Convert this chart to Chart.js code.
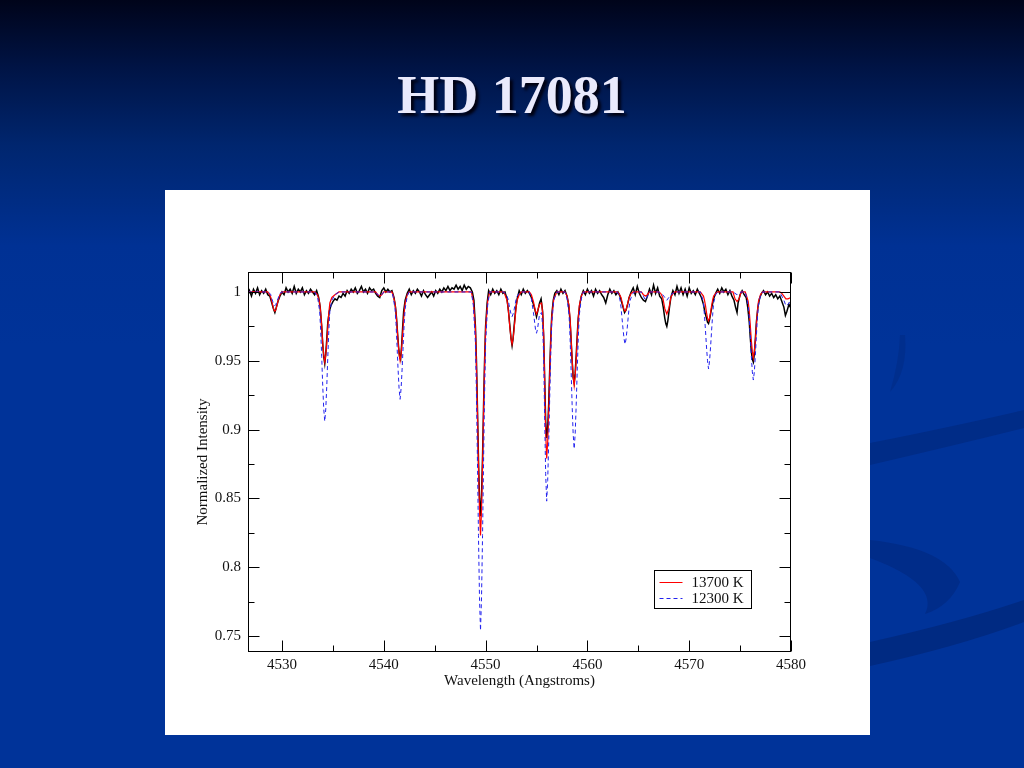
<!DOCTYPE html>
<html>
<head>
<meta charset="utf-8">
<title>HD 17081</title>
<script src="https://cdn.jsdelivr.net/npm/chart.js@4.4.1/dist/chart.umd.min.js"></script>
<style>
    html, body { margin: 0; padding: 0; }
    body {
        width: 1024px;
        height: 768px;
        overflow: hidden;
        position: relative;
        background: linear-gradient(to bottom, #00041a 0%, #001446 9%, #00266f 19%, #003194 32%, #003399 45%, #003399 100%);
        font-family: "Liberation Serif", "DejaVu Serif", serif;
    }
    .deco { position: absolute; left: 0; top: 0; }
    h1 {
        position: absolute;
        left: 0;
        top: 63px;
        width: 1024px;
        margin: 0;
        text-align: center;
        font-size: 54px;
        font-weight: bold;
        line-height: 64px;
        color: #eaeafc;
        text-shadow: 3px 3px 3px #000010;
    }
    #panel {
        position: absolute;
        left: 165px;
        top: 190px;
        width: 705px;
        height: 545px;
        background: #fff;
    }
</style>
</head>
<body>
<svg class="deco" width="1024" height="768">
    <path d="M870 443 Q960 425 1024 410 L1024 428 Q960 444 870 465 Z" fill="#002a82" opacity="0.8"/>
    <path d="M870 642 Q960 622 1024 600 L1024 622 Q960 646 870 666 Z" fill="#00287c" opacity="0.8"/>
    <path d="M870 540 Q945 548 960 582 Q950 606 925 614 Q940 584 870 558 Z" fill="#002a82" opacity="0.7"/>
    <path d="M905 335 Q908 372 890 392 Q899 362 900 335 Z" fill="#002a82" opacity="0.5"/>
</svg>
<h1>HD 17081</h1>
<div id="panel"><canvas id="spec" width="705" height="545"></canvas></div>
<script>
// axis ranges and ticks
const X_MIN = 4526.66;
const X_MAX = 4580;
const Y_MIN = 0.7384;
const Y_MAX = 1.0145;
const X_TICKS = [4530, 4540, 4550, 4560, 4570, 4580];
const X_MINOR = [4535, 4545, 4555, 4565, 4575];
const Y_TICKS = [0.75, 0.8, 0.85, 0.9, 0.95, 1];
const Y_MINOR = [0.775, 0.825, 0.875, 0.925, 0.975];

const SERIES_LABELS = ['13700 K', '12300 K'];

// observed spectrum [wavelength, normalized intensity]
const OBS = [
    [4526.66, 0.998], [4526.8, 1.001], [4527.0, 0.997], [4527.2, 1.002], [4527.4, 0.999], [4527.6, 1.003],
    [4527.8, 0.998], [4528.0, 1.001], [4528.2, 0.999], [4528.4, 1.002], [4528.6, 0.998], [4528.8, 0.997],
    [4529.0, 0.992], [4529.15, 0.988], [4529.3, 0.985], [4529.45, 0.989], [4529.6, 0.993], [4529.8, 0.997],
    [4530.0, 1.000], [4530.2, 0.998], [4530.4, 1.003], [4530.6, 1.000], [4530.8, 1.002], [4531.0, 0.999],
    [4531.2, 1.004], [4531.4, 0.999], [4531.6, 1.002], [4531.8, 1.000], [4532.0, 1.003], [4532.2, 0.998],
    [4532.4, 1.001], [4532.6, 0.999], [4532.8, 1.002], [4533.0, 1.000], [4533.2, 0.998], [4533.4, 1.001],
    [4533.6, 0.996], [4533.75, 0.989], [4533.9, 0.975], [4534.0, 0.962], [4534.1, 0.953], [4534.2, 0.948],
    [4534.3, 0.955], [4534.4, 0.966], [4534.5, 0.978], [4534.65, 0.986], [4534.8, 0.990], [4535.0, 0.993],
    [4535.2, 0.995], [4535.4, 0.994], [4535.6, 0.997], [4535.8, 0.996], [4536.0, 0.999], [4536.2, 0.997],
    [4536.4, 1.001], [4536.6, 0.999], [4536.8, 1.002], [4537.0, 1.000], [4537.2, 1.003], [4537.4, 0.999],
    [4537.6, 1.001], [4537.8, 1.004], [4538.0, 1.000], [4538.2, 1.002], [4538.4, 0.999], [4538.6, 1.003],
    [4538.8, 1.001], [4539.0, 1.002], [4539.2, 0.999], [4539.4, 0.997], [4539.6, 0.996], [4539.8, 1.001],
    [4540.0, 1.003], [4540.2, 1.000], [4540.4, 1.002], [4540.6, 1.000], [4540.8, 1.001], [4541.0, 0.996],
    [4541.15, 0.989], [4541.25, 0.981], [4541.35, 0.970], [4541.45, 0.960], [4541.55, 0.953], [4541.65, 0.951],
    [4541.75, 0.961], [4541.85, 0.974], [4541.95, 0.986], [4542.1, 0.994], [4542.3, 0.999], [4542.5, 1.002],
    [4542.7, 0.998], [4542.9, 1.001], [4543.1, 0.999], [4543.3, 1.002], [4543.5, 1.000], [4543.7, 0.997],
    [4543.9, 1.001], [4544.1, 0.998], [4544.3, 0.996], [4544.5, 0.998], [4544.7, 1.000], [4544.9, 0.997],
    [4545.1, 1.001], [4545.3, 0.999], [4545.5, 1.002], [4545.7, 1.000], [4545.9, 1.003], [4546.1, 1.001],
    [4546.3, 1.004], [4546.5, 1.001], [4546.7, 1.003], [4546.9, 1.002], [4547.1, 1.005], [4547.3, 1.002],
    [4547.5, 1.004], [4547.7, 1.001], [4547.9, 1.005], [4548.1, 1.002], [4548.3, 1.004], [4548.5, 1.003],
    [4548.7, 1.000], [4548.85, 0.994], [4549.0, 0.975], [4549.1, 0.950], [4549.2, 0.915], [4549.3, 0.878],
    [4549.4, 0.850], [4549.5, 0.837], [4549.6, 0.852], [4549.7, 0.880], [4549.8, 0.917], [4549.9, 0.950],
    [4550.0, 0.975], [4550.15, 0.992], [4550.3, 1.001], [4550.5, 0.998], [4550.7, 1.002], [4550.9, 0.999],
    [4551.1, 1.001], [4551.3, 0.998], [4551.5, 1.002], [4551.7, 0.999], [4551.9, 1.000], [4552.1, 0.995],
    [4552.25, 0.986], [4552.4, 0.974], [4552.5, 0.966], [4552.6, 0.961], [4552.7, 0.966], [4552.8, 0.975],
    [4552.95, 0.987], [4553.1, 0.995], [4553.3, 1.001], [4553.5, 0.998], [4553.7, 1.002], [4553.9, 0.999],
    [4554.1, 1.001], [4554.3, 0.999], [4554.5, 0.996], [4554.7, 0.991], [4554.85, 0.987], [4555.0, 0.982],
    [4555.15, 0.987], [4555.3, 0.992], [4555.45, 0.995], [4555.6, 0.986], [4555.7, 0.968], [4555.8, 0.938],
    [4555.9, 0.906], [4556.0, 0.894], [4556.1, 0.901], [4556.2, 0.919], [4556.3, 0.944], [4556.4, 0.966],
    [4556.5, 0.983], [4556.65, 0.994], [4556.8, 0.999], [4557.0, 1.001], [4557.2, 0.998], [4557.4, 1.002],
    [4557.6, 0.999], [4557.8, 1.001], [4558.0, 0.997], [4558.15, 0.991], [4558.3, 0.979], [4558.4, 0.965],
    [4558.5, 0.950], [4558.6, 0.938], [4558.7, 0.934], [4558.8, 0.941], [4558.9, 0.954], [4559.0, 0.968],
    [4559.1, 0.981], [4559.25, 0.991], [4559.4, 0.997], [4559.6, 1.001], [4559.8, 0.998], [4560.0, 1.002],
    [4560.2, 0.999], [4560.4, 1.001], [4560.6, 0.997], [4560.8, 1.002], [4561.0, 0.999], [4561.2, 1.001],
    [4561.4, 0.998], [4561.6, 0.996], [4561.8, 0.992], [4562.0, 0.998], [4562.2, 1.002], [4562.4, 0.999],
    [4562.6, 1.001], [4562.8, 0.998], [4563.0, 1.000], [4563.2, 0.997], [4563.35, 0.993], [4563.5, 0.989],
    [4563.65, 0.985], [4563.8, 0.987], [4563.95, 0.991], [4564.1, 0.996], [4564.3, 1.000], [4564.5, 1.003],
    [4564.7, 0.998], [4564.9, 1.004], [4565.1, 0.999], [4565.3, 0.996], [4565.5, 0.994], [4565.7, 0.993],
    [4565.9, 0.997], [4566.1, 1.002], [4566.3, 0.998], [4566.5, 1.005], [4566.7, 0.999], [4566.9, 1.003],
    [4567.1, 0.997], [4567.3, 0.995], [4567.45, 0.989], [4567.6, 0.981], [4567.7, 0.977], [4567.8, 0.975],
    [4567.9, 0.979], [4568.05, 0.988], [4568.2, 0.996], [4568.4, 1.001], [4568.6, 0.998], [4568.8, 1.004],
    [4569.0, 0.999], [4569.2, 1.003], [4569.4, 0.998], [4569.6, 1.002], [4569.8, 0.997], [4570.0, 1.003],
    [4570.2, 0.999], [4570.4, 1.001], [4570.6, 0.998], [4570.8, 1.002], [4571.0, 0.999], [4571.2, 0.996],
    [4571.4, 0.991], [4571.55, 0.985], [4571.7, 0.981], [4571.8, 0.978], [4571.9, 0.977], [4572.0, 0.980],
    [4572.1, 0.984], [4572.25, 0.990], [4572.4, 0.995], [4572.6, 0.999], [4572.8, 1.002], [4573.0, 0.999],
    [4573.2, 1.003], [4573.4, 1.000], [4573.6, 1.002], [4573.8, 0.998], [4574.0, 1.001], [4574.2, 0.997],
    [4574.4, 0.994], [4574.55, 0.989], [4574.7, 0.985], [4574.8, 0.992], [4575.0, 0.998], [4575.2, 1.001],
    [4575.4, 0.998], [4575.6, 0.996], [4575.75, 0.989], [4575.9, 0.978], [4576.0, 0.967], [4576.1, 0.957],
    [4576.2, 0.951], [4576.3, 0.949], [4576.4, 0.955], [4576.5, 0.966], [4576.6, 0.978], [4576.75, 0.989],
    [4576.9, 0.995], [4577.1, 0.999], [4577.3, 1.001], [4577.5, 0.998], [4577.7, 1.000], [4577.9, 0.997],
    [4578.1, 0.999], [4578.3, 0.996], [4578.5, 0.998], [4578.7, 0.995], [4578.9, 0.997], [4579.1, 0.993],
    [4579.3, 0.989], [4579.45, 0.983], [4579.6, 0.986], [4579.8, 0.991], [4580.0, 0.988]
];

// model 13700 K
const MODEL_13700 = [
    [4526.66, 1.0], [4528.6, 1.0], [4528.8, 0.998], [4528.9, 0.996], [4529.0, 0.993], [4529.1, 0.990],
    [4529.2, 0.987], [4529.3, 0.986], [4529.4, 0.987], [4529.5, 0.990], [4529.6, 0.993], [4529.7, 0.996],
    [4529.8, 0.998], [4530.0, 1.0],
    [4533.2, 1.0], [4533.5, 0.998], [4533.7, 0.992], [4533.8, 0.985], [4533.9, 0.975], [4534.0, 0.963],
    [4534.1, 0.954], [4534.2, 0.949], [4534.3, 0.954], [4534.4, 0.963], [4534.5, 0.975], [4534.6, 0.985],
    [4534.7, 0.992], [4534.9, 0.996], [4535.2, 0.998], [4535.6, 1.0],
    [4539.2, 1.0], [4539.4, 0.998], [4539.6, 0.997], [4539.8, 0.998], [4540.0, 1.0],
    [4540.8, 1.0], [4540.9, 0.998], [4541.1, 0.992], [4541.2, 0.985], [4541.3, 0.975], [4541.4, 0.964],
    [4541.5, 0.955], [4541.6, 0.950], [4541.7, 0.955], [4541.8, 0.964], [4541.9, 0.975], [4542.0, 0.985],
    [4542.1, 0.992], [4542.3, 0.998], [4542.5, 1.0],
    [4548.6, 1.0], [4548.8, 0.993], [4549.0, 0.973], [4549.1, 0.947], [4549.2, 0.912], [4549.3, 0.873],
    [4549.4, 0.841], [4549.5, 0.823], [4549.6, 0.841], [4549.7, 0.873], [4549.8, 0.912], [4549.9, 0.947],
    [4550.0, 0.973], [4550.2, 0.993], [4550.4, 1.0],
    [4551.8, 1.0], [4551.9, 0.998], [4552.1, 0.994], [4552.2, 0.989], [4552.3, 0.981], [4552.4, 0.973],
    [4552.5, 0.966], [4552.6, 0.962], [4552.7, 0.966], [4552.8, 0.973], [4552.9, 0.981], [4553.0, 0.989],
    [4553.1, 0.994], [4553.3, 0.998], [4553.5, 1.0],
    [4554.3, 1.0], [4554.5, 0.998], [4554.7, 0.993], [4554.9, 0.986], [4555.0, 0.984], [4555.1, 0.986],
    [4555.3, 0.991], [4555.5, 0.992], [4555.6, 0.985], [4555.7, 0.970], [4555.8, 0.935], [4555.9, 0.898],
    [4556.0, 0.879], [4556.1, 0.891], [4556.2, 0.913], [4556.3, 0.940], [4556.4, 0.964], [4556.5, 0.982],
    [4556.7, 0.995], [4557.0, 1.0],
    [4557.8, 1.0], [4558.0, 0.997], [4558.2, 0.990], [4558.3, 0.980], [4558.4, 0.966], [4558.5, 0.951],
    [4558.6, 0.939], [4558.7, 0.932], [4558.8, 0.939], [4558.9, 0.951], [4559.0, 0.966], [4559.1, 0.980],
    [4559.2, 0.990], [4559.4, 0.997], [4559.6, 1.0],
    [4562.9, 1.0], [4563.1, 0.999], [4563.3, 0.996], [4563.4, 0.993], [4563.5, 0.990], [4563.6, 0.987],
    [4563.7, 0.986], [4563.8, 0.987], [4563.9, 0.990], [4564.0, 0.993], [4564.1, 0.996], [4564.3, 0.999],
    [4564.5, 1.0],
    [4565.3, 1.0], [4565.5, 0.998], [4565.7, 0.997], [4565.9, 0.998], [4566.1, 1.0],
    [4567.0, 1.0], [4567.2, 0.999], [4567.4, 0.996], [4567.5, 0.992], [4567.6, 0.988], [4567.7, 0.986],
    [4567.8, 0.984], [4567.9, 0.986], [4568.0, 0.988], [4568.1, 0.992], [4568.2, 0.996], [4568.4, 0.999],
    [4568.6, 1.0],
    [4571.1, 1.0], [4571.2, 0.999], [4571.4, 0.997], [4571.5, 0.994], [4571.6, 0.990], [4571.7, 0.985],
    [4571.8, 0.981], [4571.9, 0.979], [4572.0, 0.981], [4572.1, 0.985], [4572.2, 0.990], [4572.3, 0.994],
    [4572.4, 0.997], [4572.6, 0.999], [4572.8, 1.0],
    [4574.3, 1.0], [4574.5, 0.995], [4574.7, 0.993], [4574.9, 0.995], [4575.1, 1.0],
    [4575.5, 1.0], [4575.6, 0.998], [4575.8, 0.993], [4575.9, 0.986], [4576.0, 0.976], [4576.1, 0.965],
    [4576.2, 0.957], [4576.3, 0.952], [4576.4, 0.957], [4576.5, 0.965], [4576.6, 0.976], [4576.7, 0.986],
    [4576.8, 0.993], [4577.0, 0.998], [4577.2, 1.0],
    [4578.9, 1.0], [4579.1, 0.999], [4579.3, 0.997], [4579.5, 0.995], [4579.7, 0.995], [4580.0, 0.996]
];

// model 12300 K
const MODEL_12300 = [
    [4526.66, 1.0], [4528.6, 1.0], [4528.8, 0.999], [4528.9, 0.998], [4529.0, 0.995], [4529.1, 0.993],
    [4529.2, 0.991], [4529.3, 0.990], [4529.4, 0.991], [4529.5, 0.993], [4529.6, 0.995], [4529.7, 0.997],
    [4529.8, 0.999], [4530.0, 1.0],
    [4533.2, 1.0], [4533.5, 0.996], [4533.7, 0.986], [4533.8, 0.972], [4533.9, 0.953], [4534.0, 0.932],
    [4534.1, 0.915], [4534.2, 0.906], [4534.3, 0.915], [4534.4, 0.932], [4534.5, 0.953], [4534.6, 0.972],
    [4534.7, 0.986], [4534.9, 0.994], [4535.2, 0.998], [4535.6, 1.0],
    [4539.2, 1.0], [4539.4, 0.998], [4539.6, 0.997], [4539.8, 0.998], [4540.0, 1.0],
    [4540.8, 1.0], [4540.9, 0.997], [4541.1, 0.988], [4541.2, 0.977], [4541.3, 0.961], [4541.4, 0.944],
    [4541.5, 0.930], [4541.6, 0.922], [4541.7, 0.930], [4541.8, 0.944], [4541.9, 0.961], [4542.0, 0.977],
    [4542.1, 0.988], [4542.3, 0.997], [4542.5, 1.0],
    [4548.6, 1.0], [4548.8, 0.990], [4549.0, 0.963], [4549.1, 0.926], [4549.2, 0.877], [4549.3, 0.823],
    [4549.4, 0.778], [4549.5, 0.754], [4549.6, 0.778], [4549.7, 0.823], [4549.8, 0.877], [4549.9, 0.926],
    [4550.0, 0.963], [4550.2, 0.990], [4550.4, 1.0],
    [4551.8, 1.0], [4551.9, 0.999], [4552.1, 0.997], [4552.2, 0.995], [4552.3, 0.991], [4552.4, 0.987],
    [4552.5, 0.984], [4552.6, 0.982], [4552.7, 0.984], [4552.8, 0.987], [4552.9, 0.991], [4553.0, 0.995],
    [4553.1, 0.997], [4553.3, 0.999], [4553.5, 1.0],
    [4554.3, 1.0], [4554.5, 0.995], [4554.7, 0.985], [4554.9, 0.973], [4555.0, 0.970], [4555.1, 0.973],
    [4555.3, 0.984], [4555.5, 0.985], [4555.6, 0.975], [4555.7, 0.955], [4555.8, 0.910], [4555.9, 0.868],
    [4556.0, 0.848], [4556.1, 0.863], [4556.2, 0.891], [4556.3, 0.924], [4556.4, 0.954], [4556.5, 0.977],
    [4556.7, 0.994], [4557.0, 1.0],
    [4557.8, 1.0], [4558.0, 0.995], [4558.2, 0.983], [4558.3, 0.966], [4558.4, 0.943], [4558.5, 0.918],
    [4558.6, 0.897], [4558.7, 0.886], [4558.8, 0.897], [4558.9, 0.918], [4559.0, 0.943], [4559.1, 0.966],
    [4559.2, 0.983], [4559.4, 0.995], [4559.6, 1.0],
    [4562.9, 1.0], [4563.1, 0.998], [4563.2, 0.994], [4563.3, 0.989], [4563.4, 0.981], [4563.5, 0.973],
    [4563.6, 0.966], [4563.7, 0.962], [4563.8, 0.966], [4563.9, 0.973], [4564.0, 0.981], [4564.1, 0.989],
    [4564.2, 0.994], [4564.4, 0.998], [4564.6, 1.0],
    [4565.3, 1.0], [4565.5, 0.997], [4565.7, 0.994], [4565.9, 0.997], [4566.1, 1.0],
    [4567.0, 1.0], [4567.4, 0.998], [4567.6, 0.996], [4567.8, 0.994], [4568.0, 0.996], [4568.2, 0.998],
    [4568.6, 1.0],
    [4571.1, 1.0], [4571.2, 0.998], [4571.4, 0.992], [4571.5, 0.983], [4571.6, 0.972], [4571.7, 0.960],
    [4571.8, 0.950], [4571.9, 0.944], [4572.0, 0.950], [4572.1, 0.960], [4572.2, 0.972], [4572.3, 0.983],
    [4572.4, 0.992], [4572.6, 0.998], [4572.8, 1.0],
    [4574.3, 1.0], [4574.5, 0.999], [4574.7, 0.998], [4574.9, 0.999], [4575.1, 1.0],
    [4575.5, 1.0], [4575.6, 0.997], [4575.8, 0.990], [4575.9, 0.981], [4576.0, 0.968], [4576.1, 0.954],
    [4576.2, 0.942], [4576.3, 0.936], [4576.4, 0.942], [4576.5, 0.954], [4576.6, 0.968], [4576.7, 0.981],
    [4576.8, 0.990], [4577.0, 0.997], [4577.2, 1.0],
    [4578.9, 1.0], [4579.1, 0.997], [4579.3, 0.994], [4579.5, 0.990], [4579.7, 0.991], [4580.0, 0.994]
];

const COLORS = {
    obs: '#000000',
    hot: '#ff0000',
    cool: '#2222ee',
    axis: '#000000',
    text: '#111111'
};
const FONT = '"Liberation Serif", "Times New Roman", serif';

function toPoints(arr) {
    return arr.map(p => ({ x: p[0], y: p[1] }));
}

// frame with inward ticks on all four sides
const framePlugin = {
    id: 'frame',
    afterDatasetsDraw(chart) {
        const { ctx, chartArea: a, scales } = chart;
        const px = v => Math.round(scales.x.getPixelForValue(v)) + 0.5;
        const py = v => Math.round(scales.y.getPixelForValue(v)) + 0.5;
        const L = Math.round(a.left) + 0.5, R = Math.round(a.right) - 0.5;
        const T = Math.round(a.top) + 0.5, B = Math.round(a.bottom) - 0.5;
        ctx.save();
        ctx.strokeStyle = COLORS.axis;
        ctx.lineWidth = 1;
        ctx.strokeRect(L, T, R - L, B - T);
        ctx.beginPath();
        const xt = (v, len) => {
            const x = px(v);
            ctx.moveTo(x, B); ctx.lineTo(x, B - len);
            ctx.moveTo(x, T); ctx.lineTo(x, T + len);
        };
        const yt = (v, len) => {
            const y = py(v);
            ctx.moveTo(L, y); ctx.lineTo(L + len, y);
            ctx.moveTo(R, y); ctx.lineTo(R - len, y);
        };
        X_TICKS.forEach(v => xt(v, 11));
        X_MINOR.forEach(v => xt(v, 6));
        Y_TICKS.forEach(v => yt(v, 11));
        Y_MINOR.forEach(v => yt(v, 6));
        ctx.stroke();
        ctx.restore();
    }
};

// legend box in the lower right of the plot
const legendBoxPlugin = {
    id: 'legendBox',
    afterDraw(chart) {
        const { ctx, chartArea: a } = chart;
        const left = Math.round(a.right) - 136.5;
        const top = Math.round(a.bottom) - 81.5;
        ctx.save();
        ctx.fillStyle = '#fff';
        ctx.fillRect(left, top, 97, 38);
        ctx.strokeStyle = '#000';
        ctx.lineWidth = 1;
        ctx.strokeRect(left, top, 97, 38);
        const rows = [
            { label: SERIES_LABELS[0], color: COLORS.hot, dash: [] },
            { label: SERIES_LABELS[1], color: COLORS.cool, dash: [4, 3] }
        ];
        ctx.font = '15px ' + FONT;
        ctx.textBaseline = 'middle';
        rows.forEach((r, i) => {
            const y = top + 12 + i * 16;
            ctx.beginPath();
            ctx.setLineDash(r.dash);
            ctx.strokeStyle = r.color;
            ctx.moveTo(left + 5, y);
            ctx.lineTo(left + 28, y);
            ctx.stroke();
            ctx.setLineDash([]);
            ctx.fillStyle = COLORS.text;
            ctx.fillText(r.label, left + 37, y + 1);
        });
        ctx.restore();
    }
};

const ctx = document.getElementById('spec').getContext('2d');
new Chart(ctx, {
    type: 'line',
    data: {
        datasets: [
            {
                label: SERIES_LABELS[1],
                data: toPoints(MODEL_12300),
                borderColor: COLORS.cool,
                borderWidth: 1,
                borderDash: [4, 3],
                pointRadius: 0,
                tension: 0,
                order: 0
            },
            {
                label: SERIES_LABELS[0],
                data: toPoints(MODEL_13700),
                borderColor: COLORS.hot,
                borderWidth: 1.2,
                pointRadius: 0,
                tension: 0,
                order: 1
            },
            {
                label: 'Observed',
                data: toPoints(OBS),
                borderColor: COLORS.obs,
                borderWidth: 1.5,
                pointRadius: 0,
                tension: 0,
                order: 2
            }
        ]
    },
    options: {
        responsive: false,
        animation: false,
        events: [],
        layout: { padding: { top: 82, right: 79, left: 0, bottom: 0 } },
        plugins: {
            legend: { display: false },
            tooltip: { enabled: false }
        },
        scales: {
            x: {
                type: 'linear',
                min: X_MIN,
                max: X_MAX,
                afterFit: s => { s.height = 83; },
                afterBuildTicks: s => { s.ticks = X_TICKS.map(v => ({ value: v })); },
                grid: { display: false, drawTicks: false },
                border: { display: false },
                ticks: {
                    color: COLORS.text,
                    font: { family: FONT, size: 15 },
                    padding: 4,
                    maxRotation: 0,
                    autoSkip: false,
                    callback: v => String(v)
                },
                title: {
                    display: true,
                    text: 'Wavelength (Angstroms)',
                    color: COLORS.text,
                    font: { family: FONT, size: 15 },
                    padding: { top: 0, bottom: 45 }
                }
            },
            y: {
                type: 'linear',
                min: Y_MIN,
                max: Y_MAX,
                afterFit: s => { s.width = 83; },
                afterBuildTicks: s => { s.ticks = Y_TICKS.map(v => ({ value: v })); },
                grid: { display: false, drawTicks: false },
                border: { display: false },
                ticks: {
                    color: COLORS.text,
                    font: { family: FONT, size: 15 },
                    padding: 7,
                    autoSkip: false,
                    callback: v => String(v)
                },
                title: {
                    display: true,
                    text: 'Normalized Intensity',
                    color: COLORS.text,
                    font: { family: FONT, size: 15 },
                    padding: { top: 29, bottom: 0 }
                }
            }
        }
    },
    plugins: [framePlugin, legendBoxPlugin]
});
</script>
</body>
</html>
